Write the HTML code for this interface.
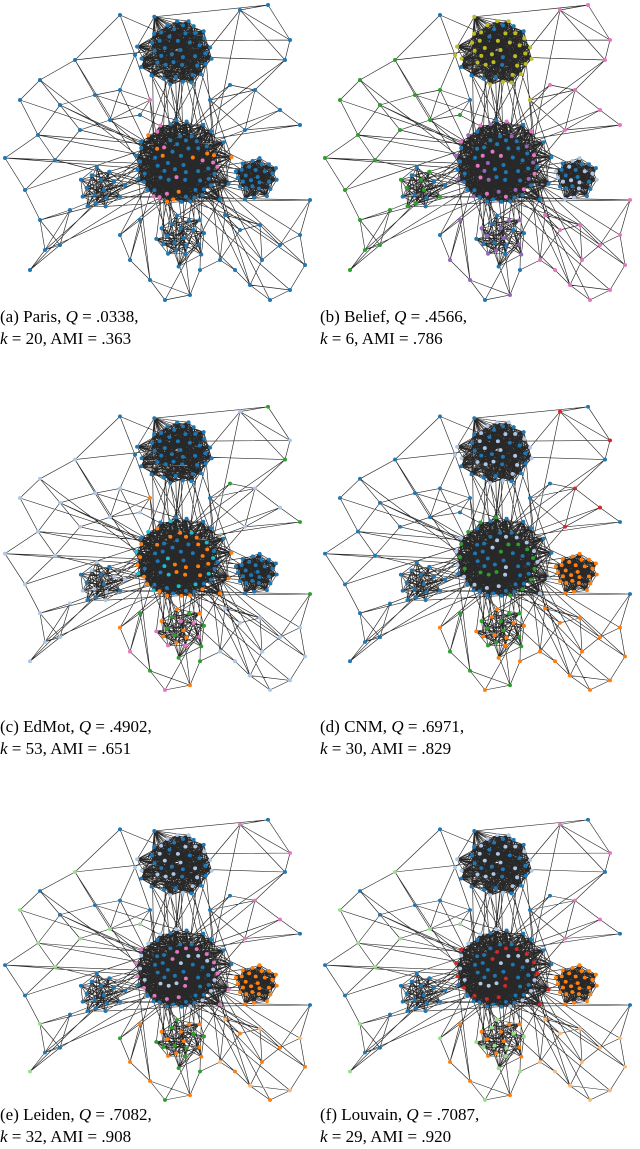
<!DOCTYPE html>
<html>
<head>
<meta charset="utf-8">
<style>
html,body{margin:0;padding:0;background:#fff;}
body{width:640px;height:1149px;position:relative;overflow:hidden;font-family:"Liberation Serif",serif;}
.cap{position:absolute;font-size:17px;line-height:22px;color:#000;white-space:nowrap;}
svg{position:absolute;left:0;top:0;}
</style>
</head>
<body>
<svg id="fig" width="640" height="1149"></svg>

<div class="cap" style="left:0;top:306px">(a) Paris, <i>Q</i> = .0338,<br><i>k</i> = 20, AMI = .363</div>
<div class="cap" style="left:320px;top:306px">(b) Belief, <i>Q</i> = .4566,<br><i>k</i> = 6, AMI = .786</div>
<div class="cap" style="left:0;top:716px">(c) EdMot, <i>Q</i> = .4902,<br><i>k</i> = 53, AMI = .651</div>
<div class="cap" style="left:320px;top:716px">(d) CNM, <i>Q</i> = .6971,<br><i>k</i> = 30, AMI = .829</div>
<div class="cap" style="left:0;top:1104px">(e) Leiden, <i>Q</i> = .7082,<br><i>k</i> = 32, AMI = .908</div>
<div class="cap" style="left:320px;top:1104px">(f) Louvain, <i>Q</i> = .7087,<br><i>k</i> = 29, AMI = .920</div>

<script>
const clusterNames = ["top","center","right","left","web"];
const clusterCx = [177,180,255,100,180];
const clusterCy = [50,165,177,190,238];
const clusterR = [40,50,24,26,28];
const clusterN = [46,72,28,16,20];
const clusterLinks = [10,12,9,4,4];

const periX = [5,20,40,38,25,40,45,30,60,75,95,80,60,55,70,110,120,140,
               240,268,290,285,255,230,245,300,280,310,
               225,240,260,280,300,305,290,270,250,235,220,262,
               150,165,190,200,130,120,140, 120,150,210,135];
const periY = [158,100,80,135,190,220,250,270,245,60,95,130,105,160,210,120,90,115,
               10,5,40,60,90,85,130,125,110,200,
               215,230,225,245,235,265,290,300,285,270,260,260,
               280,300,295,270,260,235,220, 15,100,100,55];
const periG = ["lring","lring","lring","lring","lring","lring","lring","lring","lring","lring","lring","lring","lring","lring","lring","lring","lring","lring",
               "tr","tr","tr","tr","tr","tr","tr","tr","tr","tr",
               "br","br","br","br","br","br","br","br","br","br","br","br",
               "web","web","web","web","web","web","web","top","center","top","top"];

const panelOX = [0,320,0,320,0,320];
const panelOY = [0,0,402,402,815,815];
const panelSY = [1,1,0.96,0.96,0.95,0.95];

const B="#1f77b4",LB="#aec7e8",O="#ff7f0e",LO="#ffbb78",G="#2ca02c",LG="#98df8a",R="#d62728",P="#9467bd",PK="#e377c2",Y="#bcbd22",C="#17becf";
const panelColors = [
 {top:[B],center:[B,B,B,B,B,O,PK],right:[B],left:[B],web:[B],lring:[B],tr:[B],br:[B]},
 {top:[Y,Y,Y,B],center:[B,B,PK,B,P],right:[B,LB],left:[G,B],web:[P,B],lring:[G],tr:[PK],br:[PK]},
 {top:[B],center:[B,O,B,O,C],right:[B],left:[B,LB],web:[O,G,PK],lring:[LB],tr:[LB,G],br:[LB]},
 {top:[LB,B],center:[B,B,G,LB],right:[O],left:[B],web:[G,O],lring:[B],tr:[R,B],br:[O]},
 {top:[LB,B],center:[B,B,LB,PK],right:[O],left:[B],web:[O,G],lring:[B,LG],tr:[PK,B],br:[LO,O]},
 {top:[LB,B],center:[B,B,LB,R],right:[O],left:[B],web:[O,LG],lring:[B,LG],tr:[PK,B],br:[LO]}
];

const NS="http://www.w3.org/2000/svg";
const fig=document.getElementById('fig');

const nodes=[];
clusterNames.forEach((nm,ci)=>{
  for(let i=0;i<clusterN[ci];i++){
    const a=i*2.39996, rr=clusterR[ci]*Math.sqrt((i+0.5)/clusterN[ci])*(0.85+0.3*((i*37)%11)/11);
    nodes.push({x:clusterCx[ci]+rr*Math.cos(a), y:clusterCy[ci]+rr*Math.sin(a)*0.92, g:nm, ci:ci, k:i});
  }
});
const clusterStart=[];{let s=0;clusterN.forEach(n=>{clusterStart.push(s);s+=n;});}
periX.forEach((x,i)=>nodes.push({x:x,y:periY[i],g:periG[i],ci:-1,k:i}));

const edges=[];
clusterNames.forEach((nm,ci)=>{
  const s=clusterStart[ci],n=clusterN[ci];
  for(let i=0;i<n;i++)for(let j=1;j<=clusterLinks[ci];j++){
    edges.push([s+i,s+((i+j*3)%n)]);
  }
});
for(let i=0;i<22;i++){edges.push([clusterStart[0]+(i*5)%clusterN[0],clusterStart[1]+(i*7)%clusterN[1]]);}
for(let i=0;i<12;i++){edges.push([clusterStart[2]+(i*3)%clusterN[2],clusterStart[1]+(i*11)%clusterN[1]]);}
for(let i=0;i<14;i++){edges.push([clusterStart[3]+(i)%clusterN[3],clusterStart[1]+(i*13)%clusterN[1]]);}
for(let i=0;i<20;i++){edges.push([clusterStart[4]+(i)%clusterN[4],clusterStart[1]+(i*9)%clusterN[1]]);}
const pStart=clusterStart[4]+clusterN[4];
periX.forEach((x,i)=>{
  const idx=pStart+i;
  const d=periX.map((x2,j)=>({j:j,d:(x2-x)**2+(periY[j]-periY[i])**2})).filter(o=>o.j!==i).sort((a,b)=>a.d-b.d);
  edges.push([idx,pStart+d[0].j]);edges.push([idx,pStart+d[1].j]);
  if(i%2===0) edges.push([idx,pStart+d[2].j]);
  const target = periY[i]<70 ? 0 : 1;
  edges.push([idx,clusterStart[target]+(i*7)%clusterN[target]]);
  if(i%3===0) edges.push([idx,clusterStart[1]+(i*5+3)%clusterN[1]]);
});

panelOX.forEach((ox,p)=>{
  const g=document.createElementNS(NS,'g');
  
  
  g.setAttribute('transform','translate('+ox+','+panelOY[p]+') scale(1,'+panelSY[p]+')');
  const eg=document.createElementNS(NS,'g');
  
  
  eg.setAttribute('stroke','#111');eg.setAttribute('stroke-width','0.65');eg.setAttribute('stroke-opacity','0.9');
  let d='';
  edges.forEach(e=>{const a=nodes[e[0]],b=nodes[e[1]];d+='M'+a.x.toFixed(1)+' '+a.y.toFixed(1)+'L'+b.x.toFixed(1)+' '+b.y.toFixed(1);});
  const path=document.createElementNS(NS,'path');path.setAttribute('d',d);path.setAttribute('fill','none');
  
  
  eg.appendChild(path);g.appendChild(eg);
  const cm=panelColors[p];
  nodes.forEach((n,i)=>{
    const c=document.createElementNS(NS,'circle');
    c.setAttribute('cx',n.x.toFixed(1));c.setAttribute('cy',n.y.toFixed(1));c.setAttribute('r','2');
    const arr=cm[n.g];c.setAttribute('fill',arr[n.k%arr.length]);
    
    
    g.appendChild(c);
  });
  fig.appendChild(g);
});
</script>
</body>
</html>
